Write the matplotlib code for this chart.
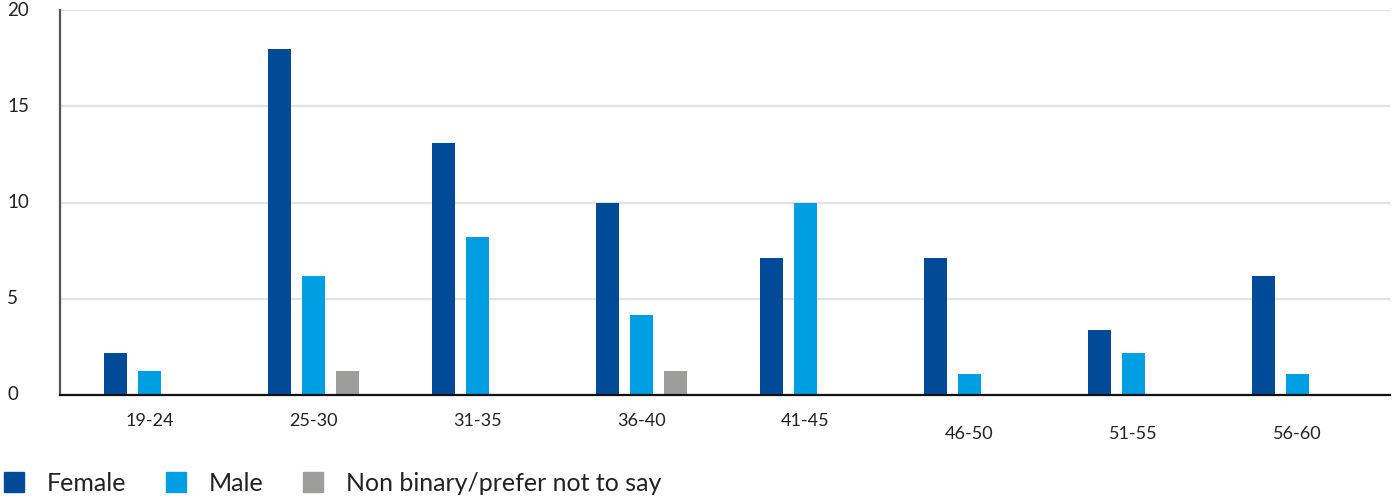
import matplotlib.pyplot as plt
import numpy as np
from matplotlib.lines import Line2D
from matplotlib.transforms import offset_copy

plt.rcParams["font.family"] = ["Lato", "DejaVu Sans"]

age_groups = ["19-24", "25-30", "31-35", "36-40", "41-45", "46-50", "51-55", "56-60"]
female = [2.2, 18.0, 13.1, 10.0, 7.1, 7.1, 3.4, 6.2]
male = [1.25, 6.2, 8.2, 4.15, 10.0, 1.1, 2.2, 1.1]
non_binary = [0, 1.25, 0, 1.25, 0, 0, 0, 0]

series = [
    ("Female", female, "#004a98"),
    ("Male", male, "#009fe3"),
    ("Non binary/prefer not to say", non_binary, "#9d9d9c"),
]

# the last three category labels sit a little lower
label_drop = [0, 0, 0, 0, 0, 9, 9, 9]

fig = plt.figure(figsize=(13.94, 4.96), dpi=100)
ax = fig.add_axes([60 / 1394, 1 - 395 / 496, 1330 / 1394, 385 / 496])

x = np.arange(len(age_groups))
step = 0.207
width = 0.14
for i, (name, vals, color) in enumerate(series):
    vals = np.array(vals)
    mask = vals > 0
    ax.bar(x[mask] + (i - 1) * step, vals[mask], width=width, color=color,
           zorder=3, label=name)

ax.set_xlim(-0.545, 7.565)
ax.set_ylim(0, 20)
ax.set_yticks([0, 5, 10, 15, 20])
ax.yaxis.grid(True, color="#e2e2e2", linewidth=1.6, zorder=0)
ax.set_axisbelow(True)

for side in ("top", "right"):
    ax.spines[side].set_visible(False)
ax.spines["left"].set_color("#555555")
ax.spines["left"].set_linewidth(1.6)
ax.spines["bottom"].set_color("#111111")
ax.spines["bottom"].set_linewidth(1.6)
ax.spines["bottom"].set_zorder(4)

ax.tick_params(axis="y", length=0, pad=38, labelsize=13.5, labelcolor="#222222")
for lab in ax.get_yticklabels():
    lab.set_horizontalalignment("left")
    lab.set_verticalalignment("center")

ax.set_xticks([])
xt = ax.get_xaxis_transform()
for xi, name, drop in zip(x, age_groups, label_drop):
    tr = offset_copy(xt, fig=fig, x=0, y=-19 - drop, units="points")
    ax.text(xi, 0, name, transform=tr, ha="center", va="center",
            fontsize=13, color="#222222")

handles = [Line2D([], [], linestyle="none", marker="s", markersize=13.7,
                  markerfacecolor=c, markeredgecolor=c) for _, _, c in series]
fig.legend(handles, [s[0] for s in series], loc="lower left",
           bbox_to_anchor=(4 / 1394, 1 / 496), ncol=3, frameon=False,
           fontsize=18, handlelength=0.8, handletextpad=0.9,
           columnspacing=1.6, borderaxespad=0, borderpad=0,
           labelcolor="#222222")

fig.savefig("out.png", dpi=100)
